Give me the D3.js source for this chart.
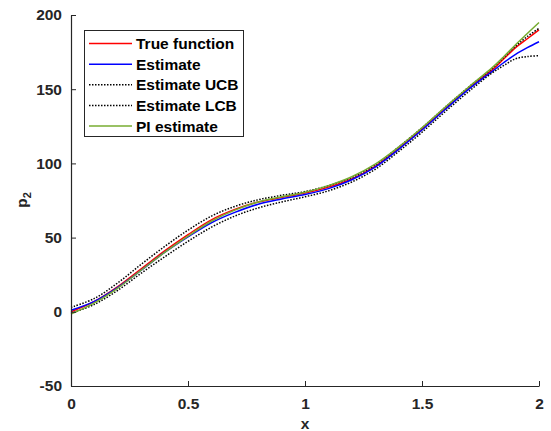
<!DOCTYPE html>
<html>
<head>
<meta charset="utf-8">
<script src="https://cdn.jsdelivr.net/npm/d3@7"></script>
<style>
  body { margin: 0; background: #fff; }
  text { font-family: "Liberation Sans", Arial, sans-serif; font-weight: bold; }
</style>
</head>
<body>
<div id="chart"></div>
<script>
// sample positions along x
var xs = [0, 0.1, 0.2, 0.3, 0.4, 0.5, 0.6, 0.7, 0.8, 0.9, 1.0, 1.1, 1.2, 1.3, 1.4, 1.5, 1.6, 1.7, 1.8, 1.85, 1.9, 1.95, 2.0];

// series values
var trueFn  = [0, 7, 17, 29, 41, 52, 62, 69, 74, 77, 80, 84, 89.5, 98, 110, 123, 137, 151, 163, 170.5, 178, 184, 190];
var est     = [1, 7, 16.5, 28, 40, 50.5, 60, 67, 72.5, 76, 79, 83, 89, 97.5, 109.5, 122.5, 136.5, 150, 162, 168, 173.5, 178, 182];
var estUCB  = [3, 9, 19.5, 32, 44, 55, 64.5, 71, 75.5, 78.5, 81, 85, 90.5, 99, 111, 124, 138, 151.5, 164, 171.5, 179, 185.5, 191];
var estLCB  = [-1, 5, 14.5, 26, 37, 47.5, 57, 64.5, 70, 74, 77.5, 81.5, 87.5, 96, 108, 121, 135, 148.5, 161, 166, 170.5, 172, 172.6];
var piEst   = [-1.5, 6, 16, 28, 40, 51, 61, 68.5, 74, 77.5, 80.5, 85, 91, 99.5, 111, 124, 138, 151.5, 164.5, 172, 180, 187.5, 195];

var xTicks = [0, 0.5, 1, 1.5, 2];
var yTicks = [-50, 0, 50, 100, 150, 200];

var series = [
  {name: "True function", values: trueFn, color: "#ff0000", dash: null},
  {name: "Estimate",      values: est,    color: "#0000ff", dash: null},
  {name: "Estimate UCB",  values: estUCB, color: "#000000", dash: "1.5,1.5"},
  {name: "Estimate LCB",  values: estLCB, color: "#000000", dash: "1.5,1.5"},
  {name: "PI estimate",   values: piEst,  color: "#77ac30", dash: null}
];

var width = 551, height = 431;
var axisColor = "#262626";
var fontSize = "15.5px";

var svg = d3.select("#chart").append("svg")
    .attr("width", width)
    .attr("height", height);

var x = d3.scaleLinear().domain([0, 2]).range([71, 539]);
var y = d3.scaleLinear().domain([-50, 200]).range([386, 15]);

// curves
var line = d3.line()
    .x(function(d) { return x(d[0]); })
    .y(function(d) { return y(d[1]); })
    .curve(d3.curveCatmullRom);

series.forEach(function(s) {
  svg.append("path")
      .datum(xs.map(function(v, i) { return [v, s.values[i]]; }))
      .attr("fill", "none")
      .attr("stroke", s.color)
      .attr("stroke-width", 1.5)
      .attr("stroke-dasharray", s.dash)
      .attr("d", line);
});

// plain hyphen minus like MATLAB
function fmt(d) { return String(d); }

// axes (MATLAB style: inward ticks, no box)
var xAxis = d3.axisBottom(x).tickValues(xTicks).tickSizeInner(-5).tickSizeOuter(0)
    .tickPadding(12).tickFormat(fmt);
var yAxis = d3.axisLeft(y).tickValues(yTicks).tickSizeInner(-5).tickSizeOuter(0)
    .tickPadding(9).tickFormat(fmt);

var gx = svg.append("g").attr("transform", "translate(0,386)").call(xAxis);
var gy = svg.append("g").attr("transform", "translate(71,0)").call(yAxis);

[gx, gy].forEach(function(g) {
  g.select(".domain").attr("stroke", axisColor).attr("stroke-width", 1.2);
  g.selectAll(".tick line").attr("stroke", axisColor).attr("stroke-width", 1);
  g.selectAll(".tick text")
      .attr("fill", axisColor)
      .style("font-size", fontSize)
      .style("font-family", "'Liberation Sans', Arial, sans-serif")
      .style("font-weight", "bold");
});

// axis labels
svg.append("text")
    .attr("x", x(1))
    .attr("y", 429)
    .attr("text-anchor", "middle")
    .attr("fill", axisColor)
    .style("font-size", fontSize)
    .text("x");

var yl = svg.append("text")
    .attr("transform", "translate(27,200) rotate(-90)")
    .attr("text-anchor", "middle")
    .attr("fill", axisColor)
    .style("font-size", fontSize);
yl.append("tspan").text("p");
yl.append("tspan").attr("dy", 4).style("font-size", "11px").text("2");

// legend
var legend = svg.append("g");
legend.append("rect")
    .attr("x", 84.5).attr("y", 30.5)
    .attr("width", 159).attr("height", 106)
    .attr("fill", "#fff")
    .attr("stroke", axisColor)
    .attr("stroke-width", 1);

var rowY = d3.scaleLinear().domain([0, 4]).range([43.5, 126]);
series.forEach(function(s, i) {
  var ly = rowY(i);
  legend.append("line")
      .attr("x1", 89).attr("x2", 132)
      .attr("y1", ly).attr("y2", ly)
      .attr("stroke", s.color)
      .attr("stroke-width", 1.5)
      .attr("stroke-dasharray", s.dash);
  legend.append("text")
      .attr("x", 136).attr("y", ly)
      .attr("dy", "0.36em")
      .attr("fill", "#000")
      .style("font-size", fontSize)
      .text(s.name);
});
</script>
</body>
</html>
